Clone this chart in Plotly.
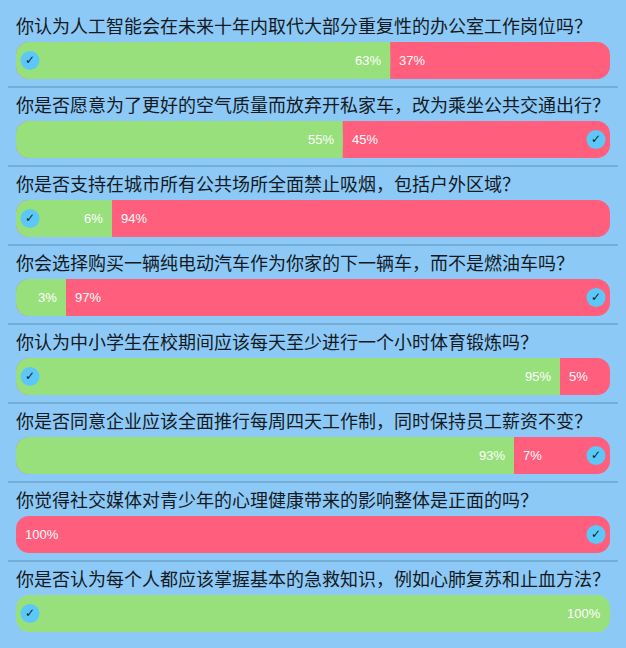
import plotly.graph_objects as go

# ---------------- data ----------------
questions = [
    "你认为人工智能会在未来十年内取代大部分重复性的办公室工作岗位吗？",
    "你是否愿意为了更好的空气质量而放弃开私家车，改为乘坐公共交通出行？",
    "你是否支持在城市所有公共场所全面禁止吸烟，包括户外区域？",
    "你会选择购买一辆纯电动汽车作为你家的下一辆车，而不是燃油车吗？",
    "你认为中小学生在校期间应该每天至少进行一个小时体育锻炼吗？",
    "你是否同意企业应该全面推行每周四天工作制，同时保持员工薪资不变？",
    "你觉得社交媒体对青少年的心理健康带来的影响整体是正面的吗？",
    "你是否认为每个人都应该掌握基本的急救知识，例如心肺复苏和止血方法？",
]
yes_pct = [63, 55, 6, 3, 95, 93, 0, 100]
no_pct = [37, 45, 94, 97, 5, 7, 100, 0]
my_vote = ["yes", "no", "yes", "no", "yes", "no", "no", "yes"]

# ---------------- style ----------------
W, H = 626, 648
BG = "#8DC9F7"
GREEN = "#98E07C"
RED = "#FF5E7D"
DARK = "#141A21"
DIVIDER = "#75ADD9"
BADGE = "#5BC8F9"

PAD_L, PAD_R = 16, 16            # bar left / right pixel edges
ROW_PITCH = 79                   # px per row
BAR_CENTER0 = 60.5               # px of first bar centre
BAR_H = 37
RADIUS = 13
TITLE_SHIFT = 35.5               # title centre above bar centre (px)
DIV_SHIFT = 26.5                 # divider below bar centre (px)
MIN_SEG = 50                     # min segment px
MIN_SEG_BADGE = 96               # min segment px when badge inside
BADGE_INSET = 14
LABEL_GAP = 8

bar_px = W - PAD_L - PAD_R
ppu = bar_px / 100.0             # px per data unit
x_range = [-PAD_L / ppu, 100 + PAD_R / ppu]
y_range = [(H - BAR_CENTER0) / ROW_PITCH, -BAR_CENTER0 / ROW_PITCH]

n = len(questions)
rows = list(range(n))

# display split position (data units) with minimum segment widths
splits = []
for i in rows:
    g = yes_pct[i]
    s = g
    if 0 < g < 100:
        gmin = (MIN_SEG_BADGE if my_vote[i] == "yes" else MIN_SEG) / ppu
        rmin = (MIN_SEG_BADGE if my_vote[i] == "no" else MIN_SEG) / ppu
        s = min(max(g, gmin), 100 - rmin)
    splits.append(s)

bw = BAR_H / ROW_PITCH
fig = go.Figure()

# layer 1: full track, coloured by the "no" side (or green when no = 0)
fig.add_trace(go.Bar(
    orientation="h", y=rows, base=[0] * n, x=[100] * n,
    marker=dict(color=[RED if no_pct[i] > 0 else GREEN for i in rows],
                cornerradius=RADIUS, line=dict(width=0)),
    width=bw, hoverinfo="skip", showlegend=False,
))
# layer 2: green "yes" segment, rounded
gy = [i for i in rows if 0 < yes_pct[i] < 100]
fig.add_trace(go.Bar(
    orientation="h", y=gy, base=[0] * len(gy), x=[splits[i] for i in gy],
    marker=dict(color=GREEN, cornerradius=RADIUS, line=dict(width=0)),
    width=bw, hoverinfo="skip", showlegend=False,
))
# layer 3: square off the inner end of the green segment
fig.add_trace(go.Bar(
    orientation="h", y=gy, base=[splits[i] - (RADIUS + 2) / ppu for i in gy],
    x=[(RADIUS + 2) / ppu] * len(gy),
    marker=dict(color=GREEN, cornerradius=0, line=dict(width=0)),
    width=bw, hoverinfo="skip", showlegend=False,
))

# badges
bx = [BADGE_INSET / ppu if v == "yes" else 100 - BADGE_INSET / ppu for v in my_vote]
fig.add_trace(go.Scatter(
    x=bx, y=rows, mode="markers+text", text=["✓"] * n,
    textposition="middle center",
    textfont=dict(color=DARK, size=12, family="DejaVu Sans"),
    marker=dict(size=19, color=BADGE, line=dict(width=0)),
    hoverinfo="skip", showlegend=False,
))

annotations = []
shapes = []
for i in rows:
    annotations.append(dict(
        x=0, y=i, xref="x", yref="y", xanchor="left", yanchor="middle",
        xshift=-2, yshift=TITLE_SHIFT, text=questions[i], showarrow=False,
        font=dict(size=18, color=DARK, family="Noto Sans CJK SC"),
    ))
    if yes_pct[i] > 0:
        annotations.append(dict(
            x=splits[i], y=i, xref="x", yref="y", xanchor="right", yanchor="middle",
            xshift=-LABEL_GAP + 1, text=f"{yes_pct[i]}%", showarrow=False,
            font=dict(size=13, color="white", family="Liberation Sans"),
        ))
    if no_pct[i] > 0:
        annotations.append(dict(
            x=splits[i], y=i, xref="x", yref="y", xanchor="left", yanchor="middle",
            xshift=LABEL_GAP - 1, text=f"{no_pct[i]}%", showarrow=False,
            font=dict(size=13, color="white", family="Liberation Sans"),
        ))
    if i < n - 1:
        yd = i + DIV_SHIFT / ROW_PITCH
        shapes.append(dict(
            type="line", xref="x", yref="y",
            x0=-(PAD_L - 8) / ppu, x1=100 + (PAD_R - 8) / ppu, y0=yd, y1=yd,
            line=dict(color=DIVIDER, width=2),
        ))

fig.update_layout(
    width=W, height=H, margin=dict(l=0, r=0, t=0, b=0),
    paper_bgcolor=BG, plot_bgcolor=BG, barmode="overlay",
    xaxis=dict(range=x_range, visible=False, fixedrange=True),
    yaxis=dict(range=y_range, visible=False, fixedrange=True),
    annotations=annotations, shapes=shapes, showlegend=False,
)

fig.write_html("out.html", config={"displayModeBar": False})
